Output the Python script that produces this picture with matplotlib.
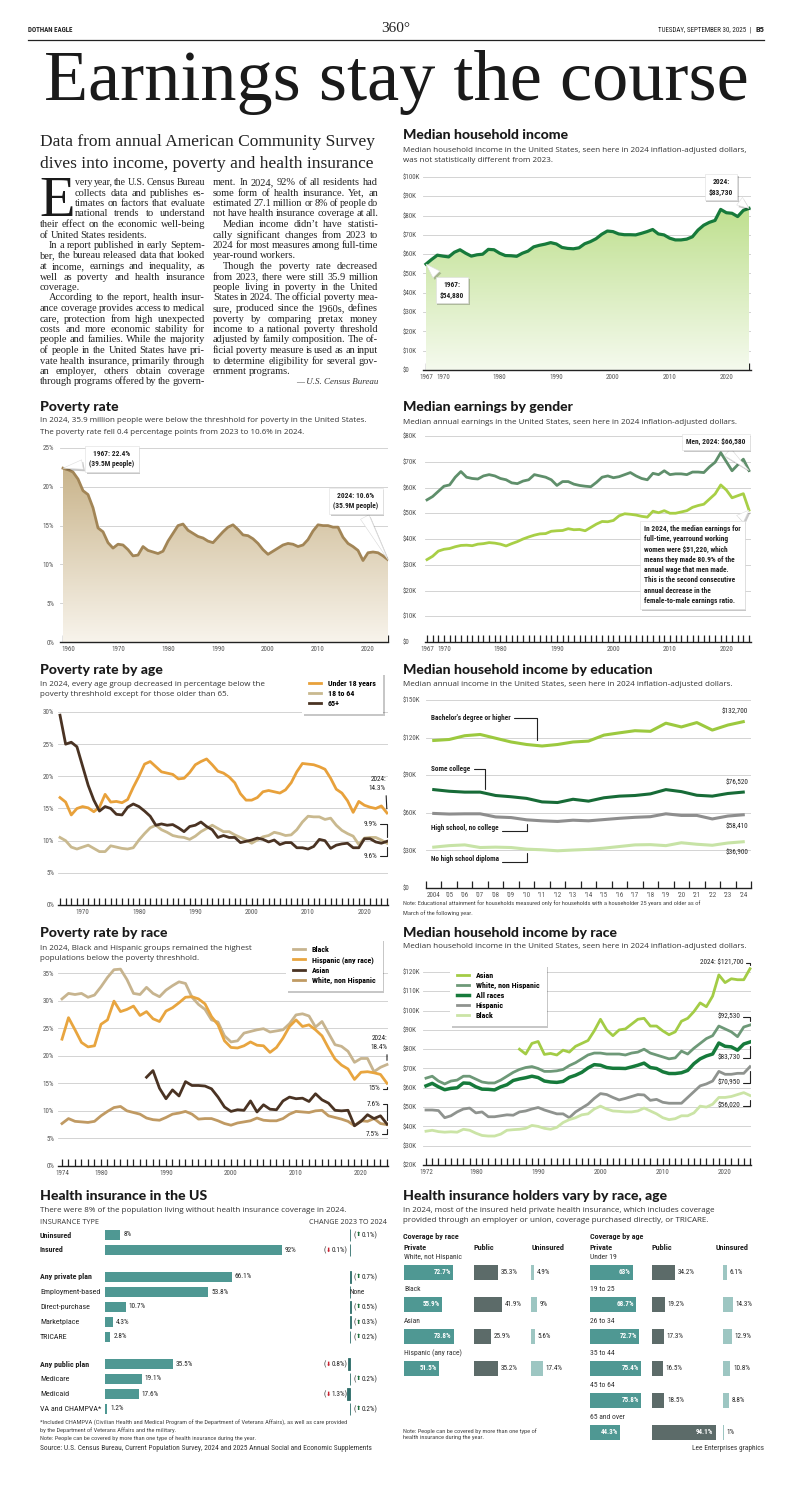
import numpy as np
import matplotlib
matplotlib.use('Agg')
import matplotlib.pyplot as plt
import matplotlib.patheffects as pe
import matplotlib.transforms as mtrans
from matplotlib import font_manager
from matplotlib.colors import LinearSegmentedColormap
from matplotlib.lines import Line2D

W, H = 792, 1512

_names = {f.name for f in font_manager.fontManager.ttflist}


def pick(*cands):
    for c in cands:
        if c in _names:
            return c
    return 'DejaVu Sans'


NARROW = pick('Liberation Sans Narrow', 'Roboto Condensed', 'Open Sans Condensed', 'Roboto')
SANS = pick('Open Sans', 'Noto Sans', 'Roboto')
HEAVY = pick('Lato', 'Roboto')
SERIF = pick('Liberation Serif', 'DejaVu Serif')

# ---------------- data ----------------
# median household income, thousands of 2024 dollars
hh_years = list(range(1967, 2025))
hh_income = [54.88, 57.3, 59.5, 59.0, 58.6, 61.0, 62.3, 60.5, 59.0, 59.7,   # 1967-1976
             60.0, 62.5, 62.3, 60.5, 59.3, 59.2, 58.9, 60.5, 61.6, 63.8,    # 1977-1986
             64.6, 65.2, 66.0, 65.3, 63.5, 63.0, 62.8, 63.3, 65.4, 66.5,    # 1987-1996
             68.0, 70.3, 72.0, 71.7, 70.5, 70.1, 70.1, 70.0, 70.8, 71.7,    # 1997-2006
             72.8, 70.5, 70.0, 68.3, 67.4, 67.4, 67.8, 69.0, 72.5, 75.0,    # 2007-2016
             76.5, 77.5, 83.2, 81.5, 81.2, 79.5, 82.7, 83.73]               # 2017-2024

# poverty rate, %
pov_years = list(range(1959, 2025))
pov_rate = [22.4, 22.2, 21.9, 21.0, 19.5, 19.0, 17.3, 14.7, 14.2, 12.8,   # 1959-1968
            12.1, 12.6, 12.5, 11.9, 11.1, 11.2, 12.3, 11.8, 11.6, 11.4,   # 1969-1978
            11.7, 13.0, 14.0, 15.0, 15.2, 14.4, 14.0, 13.6, 13.4, 13.0,   # 1979-1988
            12.8, 13.5, 14.2, 14.8, 15.1, 14.5, 13.8, 13.7, 13.3, 12.7,   # 1989-1998
            11.9, 11.3, 11.7, 12.1, 12.5, 12.7, 12.6, 12.3, 12.5, 13.2,   # 1999-2008
            14.3, 15.1, 15.0, 15.0, 14.8, 14.8, 13.5, 12.7, 12.3, 11.8,   # 2009-2018
            10.5, 11.5, 11.6, 11.5, 11.1, 10.6]                           # 2019-2024

# median earnings by gender, thousands
earn_years = list(range(1967, 2025))
earn_men = [55.2, 56.5, 58.5, 60.5, 61.0, 64.0, 66.2, 64.0, 63.5, 63.3,
            64.5, 65.0, 64.5, 63.5, 63.0, 61.8, 61.5, 62.5, 63.0, 65.0,
            64.5, 64.0, 63.0, 60.8, 62.3, 62.3, 61.3, 60.8, 60.5, 60.3,
            62.0, 64.0, 64.5, 63.8, 64.2, 65.0, 65.8, 64.5, 63.5, 63.0,
            65.5, 65.0, 66.5, 65.0, 65.3, 65.3, 65.0, 66.0, 66.0, 65.8,
            68.0, 69.8, 73.5, 70.0, 66.5, 68.8, 71.0, 66.58]
earn_women = [32.0, 33.3, 35.3, 36.0, 36.3, 37.0, 37.5, 37.6, 37.4, 38.0,
              38.2, 38.6, 38.4, 38.0, 37.3, 38.2, 39.0, 40.0, 40.8, 41.5,
              42.0, 42.1, 43.0, 43.2, 43.3, 44.0, 43.6, 43.7, 43.2, 44.5,
              45.8, 46.8, 46.7, 47.2, 49.0, 49.8, 49.6, 49.3, 48.8, 48.5,
              50.8, 50.2, 51.0, 50.0, 50.0, 50.5, 51.0, 52.3, 53.0, 53.5,
              55.5, 57.5, 61.0, 59.0, 56.0, 56.8, 57.6, 51.22]

# poverty rate by age, %
age_years = list(range(1966, 2025))
pov_under18 = [16.7, 16.0, 14.0, 15.0, 15.3, 15.1, 14.5, 15.2, 17.2, 16.0,   # 1966-1975
               16.1, 15.9, 16.4, 18.3, 20.0, 21.9, 22.3, 21.5, 20.7, 20.5,   # 1976-1985
               20.3, 19.6, 19.7, 20.6, 21.8, 22.3, 22.7, 21.8, 20.8, 20.5,   # 1986-1995
               19.9, 19.0, 17.3, 16.3, 16.3, 16.7, 17.6, 17.8, 17.6, 17.4,   # 1996-2005
               17.9, 19.0, 20.7, 22.0, 21.9, 21.8, 21.5, 21.1, 19.7, 18.0,   # 2006-2015
               17.4, 16.2, 14.4, 16.1, 15.5, 15.2, 15.0, 15.4, 14.3]         # 2016-2024
pov_18to64 = [10.5, 10.0, 9.0, 8.7, 9.0, 9.3, 8.8, 8.3, 8.3, 9.2,
              9.0, 8.8, 8.7, 8.9, 10.1, 11.1, 12.0, 12.4, 11.7, 11.3,
              10.8, 10.6, 10.5, 10.2, 10.7, 11.4, 11.9, 12.4, 11.9, 11.4,
              11.4, 10.9, 10.5, 10.1, 9.6, 10.1, 10.6, 10.8, 11.3, 11.1,
              10.8, 10.9, 11.7, 12.9, 13.8, 13.7, 13.7, 13.3, 13.5, 12.4,
              11.6, 11.1, 10.7, 9.4, 10.4, 10.5, 10.5, 10.1, 9.6]
pov_65plus = [29.5, 25.0, 25.3, 24.6, 21.6, 18.6, 16.3, 14.6, 15.3, 15.0,
              14.1, 14.0, 15.2, 15.7, 15.3, 14.6, 13.8, 12.4, 12.6, 12.4,
              12.5, 12.0, 11.4, 12.2, 12.4, 12.9, 12.2, 11.7, 10.5, 10.8,
              10.5, 10.5, 9.7, 9.9, 10.1, 10.4, 10.2, 9.8, 10.1, 9.4,
              9.7, 9.7, 8.9, 8.9, 8.7, 9.1, 10.2, 10.0, 8.8, 9.3,
              9.5, 9.6, 8.9, 8.9, 10.3, 10.3, 9.8, 9.6, 9.9]

# median household income by education, thousands
edu_years = list(range(2004, 2025))
edu_bachelor = [117.7, 118.5, 121.5, 122.5, 119.5, 116.5, 114.5, 113.3, 114.5, 116.5,
                117.2, 122.0, 123.8, 125.5, 125.0, 131.5, 128.5, 132.0, 126.0, 130.0, 132.7]
edu_college = [78.5, 77.2, 76.5, 76.5, 73.8, 72.8, 71.5, 68.7, 68.2, 70.8,
               69.3, 72.0, 73.3, 73.8, 75.1, 78.5, 76.9, 74.0, 73.3, 75.4, 76.52]
edu_highschool = [59.5, 59.0, 59.2, 59.2, 56.7, 56.2, 54.4, 53.6, 53.1, 54.1,
                  53.6, 54.6, 55.6, 56.4, 56.9, 59.2, 57.9, 57.9, 55.1, 57.4, 58.41]
edu_nodiploma = [32.6, 33.8, 34.4, 32.3, 32.6, 32.3, 31.0, 30.5, 29.7, 30.3,
                 30.8, 31.8, 33.1, 34.4, 34.6, 33.8, 36.1, 34.9, 34.1, 35.9, 36.9]

# poverty rate by race, %
race_years = list(range(1974, 2025))
pov_black = [30.3, 31.3, 31.1, 31.3, 30.6, 31.0, 32.5, 34.2, 35.6, 35.7,   # 1974-1983
             33.8, 31.3, 31.1, 32.4, 31.3, 30.7, 31.9, 32.7, 33.4, 33.1,   # 1984-1993
             30.6, 29.3, 28.4, 26.5, 26.1, 23.6, 22.5, 22.7, 24.1, 24.4,   # 1994-2003
             24.7, 24.9, 24.3, 24.5, 24.7, 25.8, 27.4, 27.6, 27.2, 25.2,   # 2004-2013
             26.2, 24.1, 22.0, 21.7, 20.8, 18.8, 19.5, 19.5, 17.1, 17.9,   # 2014-2023
             18.4]
pov_hispanic = [23.0, 26.9, 24.7, 22.4, 21.6, 21.8, 25.7, 26.5, 29.9, 28.0,
                28.4, 29.0, 27.3, 28.0, 26.7, 26.2, 28.1, 28.7, 29.6, 30.6,
                30.7, 30.3, 29.4, 27.1, 25.6, 22.7, 21.5, 21.4, 21.8, 22.5,
                21.9, 21.8, 20.6, 21.5, 23.2, 25.3, 26.5, 25.3, 25.6, 24.7,
                23.6, 21.4, 19.4, 18.3, 17.6, 15.7, 17.0, 17.1, 16.9, 16.6,
                15.0]
pov_white = [7.7, 8.6, 8.1, 8.0, 7.9, 8.1, 9.1, 9.9, 10.6, 10.8,
             10.0, 9.7, 9.4, 8.7, 8.4, 8.3, 8.8, 9.4, 9.6, 9.9,
             9.4, 8.5, 8.6, 8.6, 8.2, 7.7, 7.4, 7.8, 8.0, 8.2,
             8.7, 8.3, 8.2, 8.2, 8.6, 9.4, 9.9, 9.8, 9.7, 10.0,
             10.1, 9.1, 8.8, 8.5, 8.1, 7.3, 8.2, 8.1, 8.6, 7.7,
             7.5]
asian_years = list(range(1987, 2025))
pov_asian = [16.1, 17.3, 14.1, 12.2, 13.8, 12.7, 15.3, 14.6, 14.6, 14.5,   # 1987-1996
             14.0, 12.5, 10.7, 9.9, 10.2, 10.1, 11.8, 9.8, 11.1, 10.3,     # 1997-2006
             10.2, 11.8, 12.5, 12.2, 12.3, 11.7, 13.1, 12.0, 11.4, 10.1,   # 2007-2016
             10.0, 10.1, 7.3, 8.1, 9.3, 8.6, 9.1, 7.6]                     # 2017-2024

# median household income by race, thousands
inc_years = list(range(1972, 2025))
inc_white = [65.0, 66.0, 63.5, 62.0, 63.5, 64.0, 66.0, 66.0, 64.5, 63.0,   # 1972-1981
             62.5, 62.5, 64.0, 66.0, 68.0, 69.5, 70.5, 71.0, 70.0, 68.5,   # 1982-1991
             68.5, 68.8, 69.5, 71.5, 73.0, 75.0, 77.0, 78.0, 78.0, 77.5,   # 1992-2001
             77.5, 77.5, 77.0, 78.0, 78.5, 80.0, 78.0, 77.0, 76.0, 75.0,   # 2002-2011
             75.5, 79.0, 77.5, 80.5, 83.0, 85.5, 87.0, 92.0, 90.5, 89.0,   # 2012-2021
             86.5, 91.5, 92.53]                                            # 2022-2024
inc_hispanic = [48.5, 48.5, 48.2, 44.5, 45.5, 47.5, 49.0, 49.5, 47.0, 47.5,
                45.0, 45.0, 45.5, 46.0, 45.8, 47.5, 48.0, 49.0, 49.8, 48.5,
                47.5, 46.5, 46.5, 44.5, 47.5, 49.5, 51.5, 54.5, 57.0, 56.5,
                55.0, 53.7, 54.5, 55.5, 56.5, 56.3, 53.5, 54.0, 52.5, 52.0,
                52.0, 52.0, 55.0, 58.0, 61.0, 62.0, 63.5, 68.5, 67.0, 67.0,
                67.5, 67.5, 70.95]
inc_black = [37.5, 38.0, 37.3, 37.0, 37.2, 37.0, 38.5, 38.0, 36.5, 35.3,
             35.0, 35.0, 36.0, 38.0, 38.3, 38.5, 39.0, 40.5, 40.0, 39.0,
             38.5, 39.5, 42.0, 43.5, 44.5, 46.0, 46.5, 49.0, 50.5, 49.0,
             48.0, 47.8, 47.5, 47.5, 48.0, 49.5, 48.0, 46.5, 44.5, 43.5,
             44.0, 45.5, 45.5, 47.0, 50.5, 50.0, 51.5, 55.0, 55.0, 55.5,
             56.5, 57.5, 56.02]
inc_asian = [80.0, 77.5, 83.0, 84.0, 77.3, 77.8, 77.0, 79.5, 78.5, 81.5,   # 1987-1996
             83.0, 84.5, 89.5, 95.5, 90.0, 87.0, 90.0, 90.5, 93.0, 95.5,   # 1997-2006
             96.0, 92.0, 92.0, 89.5, 87.5, 89.0, 94.5, 96.0, 99.5, 104.0,  # 2007-2016
             102.0, 107.5, 118.5, 114.5, 116.5, 116.0, 116.0, 121.7]      # 2017-2024
inc_all = hh_income[hh_years.index(1972):]

# health insurance in the US
ins_types = ['Uninsured', 'Insured', 'Any private plan', 'Employment-based', 'Direct-purchase',
             'Marketplace', 'TRICARE', 'Any public plan', 'Medicare', 'Medicaid', 'VA and CHAMPVA*']
ins_group = [0, 0, 1, 1, 1, 1, 1, 2, 2, 2, 2]
ins_pct = [8, 92, 66.1, 53.8, 10.7, 4.3, 2.8, 35.5, 19.1, 17.6, 1.2]
ins_change = [0.1, -0.1, 0.7, None, 0.5, 0.3, 0.2, -0.8, 0.2, -1.3, 0.2]
ins_bold = ['Uninsured', 'Insured', 'Any private plan', 'Any public plan']

# coverage by race / age, %
race_groups = ['White, not Hispanic', 'Black', 'Asian', 'Hispanic (any race)']
race_private = [72.7, 55.9, 73.8, 51.5]
race_public = [35.3, 41.9, 25.9, 35.2]
race_uninsured = [4.9, 9, 5.6, 17.4]
age_groups = ['Under 19', '19 to 25', '26 to 34', '35 to 44', '45 to 64', '65 and over']
age_private = [63, 68.7, 72.7, 75.4, 75.8, 44.3]
age_public = [34.2, 19.2, 17.3, 16.5, 18.5, 94.1]
age_uninsured = [6.1, 14.3, 12.9, 10.8, 8.8, 1]

body_left = [
    'very year, the U.S. Census Bureau',
    'collects data and publishes es-',
    'timates on factors that evaluate',
    'national trends to understand',
    'their effect on the economic well-being',
    'of United States residents.',
    'In a report published in early Septem-',
    'ber, the bureau released data that looked',
    'at income, earnings and inequality, as',
    'well as poverty and health insurance',
    'coverage.',
    'According to the report, health insur-',
    'ance coverage provides access to medical',
    'care, protection from high unexpected',
    'costs and more economic stability for',
    'people and families. While the majority',
    'of people in the United States have pri-',
    'vate health insurance, primarily through',
    'an employer, others obtain coverage',
    'through programs offered by the govern-',
]
body_right = [
    'ment. In 2024, 92% of all residents had',
    'some form of health insurance. Yet, an',
    'estimated 27.1 million or 8% of people do',
    'not have health insurance coverage at all.',
    'Median income didn\u2019t have statisti-',
    'cally significant changes from 2023 to',
    '2024 for most measures among full-time',
    'year-round workers.',
    'Though the poverty rate decreased',
    'from 2023, there were still 35.9 million',
    'people living in poverty in the United',
    'States in 2024. The official poverty mea-',
    'sure, produced since the 1960s, defines',
    'poverty by comparing pretax money',
    'income to a national poverty threshold',
    'adjusted by family composition. The of-',
    'ficial poverty measure is used as an input',
    'to determine eligibility for several gov-',
    'ernment programs.',
]
left_par_start, left_par_end = {6, 11}, {5, 10}
right_par_start, right_par_end = {4, 8}, {3, 7, 18}

# ---------------- helpers ----------------
fig = plt.figure(figsize=(W / 100, H / 100), dpi=100)
fig.patch.set_facecolor('white')
renderer = fig.canvas.get_renderer()

GRID = '#cccccc'
INK = '#222222'
TEAL = '#4f9893'
SHADOW = [pe.SimplePatchShadow(offset=(1.2, -1.5), shadow_rgbFace='black', alpha=0.22), pe.Normal()]


def add_ax(x0, y0, x1, y1):
    ax = fig.add_axes([x0 / W, 1 - y1 / H, (x1 - x0) / W, (y1 - y0) / H])
    ax.patch.set_alpha(0)
    return ax


def ftext(x, y, s, **kw):
    kw.setdefault('va', 'center')
    return fig.text(x / W, 1 - y / H, s, **kw)


def width_of(t):
    return t.get_window_extent(renderer).width


def justify(x0, x1, y, line, size, stretch=True, min_gap=1.8, **kw):
    words = line.split()
    arts = [ftext(x0, y, w, size=size, **kw) for w in words]
    widths = [width_of(a) for a in arts]
    natural = sum(widths) + min_gap * (len(words) - 1)
    if natural > x1 - x0:
        # squeeze a too-long line a little instead of letting it run into the gutter
        scale = (x1 - x0) / natural
        for a in arts:
            a.set_fontsize(size * scale)
        widths = [width_of(a) for a in arts]
    if stretch and len(words) > 1:
        gap = max((x1 - x0 - sum(widths)) / (len(words) - 1), min_gap * 0.8)
    else:
        gap = min_gap
    x = x0
    for a, w in zip(arts, widths):
        a.set_x(x / W)
        x += w + gap


def parts_text(x, y, parts, align='left'):
    arts = [ftext(x, y, s, color=c, family=f, size=sz, ha='left') for s, c, f, sz in parts]
    widths = [width_of(a) for a in arts]
    start = x if align == 'left' else x - sum(widths)
    for a, w in zip(arts, widths):
        a.set_x(start / W)
        start += w


def title(x, y, s):
    ftext(x, y, s, family=HEAVY, weight='black', size=10.1, color='#1a1a1a')


def subtitle(x, y, s):
    ftext(x, y, s, family=SANS, size=5.8, color='#333333')


def style(ax, xlim, ylim, yticks, ylabels, xmajor, xlabels, xminor, label_x, align, major_len=5):
    ax.set_xlim(*xlim)
    ax.set_ylim(*ylim)
    for side in ('top', 'right', 'left'):
        ax.spines[side].set_visible(False)
    ax.spines['bottom'].set_color(INK)
    ax.spines['bottom'].set_linewidth(1)
    left_px = ax.get_position().x0 * W
    ax.set_yticks(yticks, ylabels, fontfamily=NARROW, fontsize=5, color='#555555')
    ax.tick_params(axis='y', length=0, pad=(left_px - label_x) * 0.72)
    if align == 'left':
        for t in ax.get_yticklabels():
            t.set_ha('left')
    ax.grid(axis='y', color=GRID, lw=0.6)
    ax.set_axisbelow(True)
    ax.set_xticks(xmajor, xlabels, fontfamily=NARROW, fontsize=5, color='#555555')
    ax.set_xticks(xminor, minor=True)
    ax.tick_params(axis='x', which='minor', direction='in', length=5, width=0.9, color=INK)
    ax.tick_params(axis='x', which='major', direction='in', length=major_len, width=0.9,
                   color=INK, pad=3)


def gradient_fill(ax, x, y, c_top, c_bot):
    poly = ax.fill_between(x, y, 0, color='none', lw=0)
    cmap = LinearSegmentedColormap.from_list('fill', [c_bot, c_top])
    grad = np.linspace(0, 1, 256).reshape(-1, 1)
    im = ax.imshow(grad, cmap=cmap, aspect='auto', origin='lower',
                   extent=[min(x), max(x), 0, max(y)], zorder=1)
    im.set_clip_path(poly.get_paths()[0], transform=ax.transData)


def callout(ax, s, xy, xytext, ha='center', size=5.3, linespacing=1.45):
    a = ax.annotate(s, xy=xy, xytext=(xytext[0], H - xytext[1]), textcoords='figure pixels',
                    ha=ha, va='center', family=NARROW, weight='bold', size=size, color=INK,
                    linespacing=linespacing, zorder=6, annotation_clip=False,
                    bbox=dict(boxstyle='square,pad=0.55', fc='white', ec='#dddddd', lw=0.4),
                    arrowprops=dict(arrowstyle='wedge,tail_width=1.3,shrink_factor=0.5',
                                    fc='white', ec='#dddddd', lw=0.4, shrinkB=0))
    a.get_bbox_patch().set_path_effects(SHADOW)
    a.arrow_patch.set_path_effects(SHADOW)
    return a


def bracket(ax, s, xy, xytext, ha='right', relpos=(1, 0.5), angled=True, weight='normal'):
    conn = 'angle,angleA=0,angleB=90,rad=0' if angled else 'arc3'
    ax.annotate(s, xy=xy, xytext=(xytext[0], H - xytext[1]), textcoords='figure pixels',
                ha=ha, va='center', family=NARROW, size=5.2, weight=weight, color=INK,
                linespacing=1.5, annotation_clip=False,
                arrowprops=dict(arrowstyle='-', color=INK, lw=0.8, shrinkA=0.5, shrinkB=3,
                                connectionstyle=conn, relpos=relpos))


def legend_box(ax, handles, labels, x0, y0):
    leg = ax.legend(handles, labels, loc='upper left', bbox_to_anchor=(x0 / W, 1 - y0 / H),
                    bbox_transform=fig.transFigure, frameon=True, fancybox=False,
                    edgecolor='none', framealpha=1,
                    prop=dict(family=NARROW, weight='bold', size=5.8),
                    handlelength=1.5, handletextpad=0.8, labelspacing=0.35, borderpad=0.9)
    leg.get_frame().set_path_effects(SHADOW)
    leg.set_zorder(10)


# ---------------- header ----------------
ftext(28, 30, 'DOTHAN EAGLE', family=NARROW, weight='bold', size=5, color=INK)
ftext(396, 28, '360\u00b0', family=SERIF, size=11, ha='center', color=INK)
ftext(751, 30, 'TUESDAY, SEPTEMBER 30, 2025  |', family=NARROW, size=5, ha='right', color=INK)
ftext(764, 30, 'B5', family=NARROW, weight='bold', size=6, ha='right', color=INK)
fig.add_artist(Line2D([28 / W, 764 / W], [1 - 40 / H, 1 - 40 / H], color=INK, lw=0.9))
ftext(396, 100, 'Earnings stay the course', family=SERIF, size=52, ha='center', va='baseline',
      color='#1a1a1a')

# ---------------- story ----------------
ftext(40, 146, 'Data from annual American Community Survey', family=SERIF, size=12.5,
      va='baseline', color='#222222')
ftext(40, 168, 'dives into income, poverty and health insurance', family=SERIF, size=12.5,
      va='baseline', color='#222222')
ftext(39, 215.5, 'E', family=SERIF, size=42, va='baseline', color='#1a1a1a')
body_kw = dict(family=SERIF, va='baseline', color='#222222')
for i, line in enumerate(body_left):
    y = 185 + 10.5 * i
    x0 = 75 if i < 4 else (49 if i in left_par_start else 40)
    justify(x0, 205, y, line, 7.5, stretch=i not in left_par_end, **body_kw)
for i, line in enumerate(body_right):
    y = 185 + 10.5 * i
    x0 = 223 if i in right_par_start else 213
    justify(x0, 378, y, line, 7.5, stretch=i not in right_par_end, **body_kw)
ftext(378, 185 + 10.5 * 19, '\u2014 U.S. Census Bureau', family=SERIF, style='italic', size=6.5,
      va='baseline', ha='right', color='#333333')

# ---------------- median household income ----------------
title(403, 135, 'Median household income')
subtitle(403, 151, 'Median household income in the United States, seen here in 2024 inflation-adjusted dollars,')
subtitle(403, 161, 'was not statistically different from 2023.')
ax1 = add_ax(423, 177, 751, 370)
gradient_fill(ax1, hh_years, hh_income, '#bfe08f', '#f5faee')
ax1.plot(hh_years, hh_income, color='#177a3b', lw=2.3, zorder=3, solid_joinstyle='round')
style(ax1, (1967 - 3 / 5.667, 2024 + 2 / 5.667), (0, 100), range(0, 101, 10),
      ['$0'] + ['$%dK' % v for v in range(10, 101, 10)],
      [1967, 1970, 1980, 1990, 2000, 2010, 2020], ['1967', '1970', '1980', '1990', '2000', '2010', '2020'],
      hh_years, 403, 'left')
callout(ax1, '2024:\n$83,730', (hh_years[-1], hh_income[-1]), (721, 187))
callout(ax1, '1967:\n$54,880', (hh_years[0], hh_income[0]), (452, 290))

# ---------------- poverty rate ----------------
title(40, 407, 'Poverty rate')
subtitle(40, 421, 'In 2024, 35.9 million people were below the threshhold for poverty in the United States.')
subtitle(40, 432, 'The poverty rate fell 0.4 percentage points from 2023 to 10.6% in 2024.')
ax2 = add_ax(60, 448, 388, 642)
gradient_fill(ax2, pov_years, pov_rate, '#c9b48b', '#f8f4ec')
ax2.plot(pov_years, pov_rate, color='#a28556', lw=2.0, zorder=3, solid_joinstyle='round')
style(ax2, (1959 - 3 / 5.0, 2024), (0, 25), range(0, 26, 5), ['%d%%' % v for v in range(0, 26, 5)],
      list(range(1960, 2021, 10)), [str(v) for v in range(1960, 2021, 10)], pov_years, 54, 'right')
callout(ax2, '1967: 22.4%\n(39.5M people)', (pov_years[0], pov_rate[0]), (112, 459))
callout(ax2, '2024: 10.6%\n(35.9M people)', (pov_years[-1], pov_rate[-1]), (356, 501))

# ---------------- median earnings by gender ----------------
title(403, 407, 'Median earnings by gender')
subtitle(403, 422, 'Median annual earnings in the United States, seen here in 2024 inflation-adjusted dollars.')
ax3 = add_ax(425, 436, 751, 642)
ax3.plot(earn_years, earn_men, color='#5f8f6b', lw=2.0, zorder=3)
ax3.plot(earn_years, earn_women, color='#a8cf46', lw=2.0, zorder=3)
style(ax3, (1967 - 2 / 5.65, 2024 + 2 / 5.65), (0, 80), range(0, 81, 10),
      ['$0'] + ['$%dK' % v for v in range(10, 81, 10)],
      [1967, 1970, 1980, 1990, 2000, 2010, 2020], ['1967', '1970', '1980', '1990', '2000', '2010', '2020'],
      earn_years, 403, 'left')
callout(ax3, 'Men, 2024: $66,580', (earn_years[-1], earn_men[-1]), (716, 442))
callout(ax3, 'In 2024, the median earnings for\nfull-time, yearround working\nwomen were $51,220, which\n'
             'means they made 80.9% of the\nannual wage that men made.\nThis is the second consecutive\n'
             'annual decrease in the\nfemale-to-male earnings ratio.',
        (earn_years[-1], earn_women[-1]), (644, 565), ha='left', linespacing=1.38)

# ---------------- poverty rate by age ----------------
title(40, 670, 'Poverty rate by age')
subtitle(40, 685, 'In 2024, every age group decreased in percentage below the')
subtitle(40, 695, 'poverty threshhold except for those older than 65.')
ax4 = add_ax(58, 712, 388, 905)
l_u18, = ax4.plot(age_years, pov_under18, color='#e8a13b', lw=2.0, zorder=3)
l_adult, = ax4.plot(age_years, pov_18to64, color='#c9b98f', lw=2.0, zorder=3)
l_old, = ax4.plot(age_years, pov_65plus, color='#4a3323', lw=2.0, zorder=4)
style(ax4, (1966 - 2 / 5.64, 2024 + 1 / 5.64), (0, 30), range(0, 31, 5),
      ['%d%%' % v for v in range(0, 31, 5)],
      list(range(1970, 2021, 10)), [str(v) for v in range(1970, 2021, 10)], age_years, 54, 'right')
legend_box(ax4, [l_u18, l_adult, l_old], ['Under 18 years', '18 to 64', '65+'], 298, 669)
bracket(ax4, '2024:\n14.3%', (age_years[-1], pov_under18[-1]), (386, 784), relpos=(1, 0), angled=False)
bracket(ax4, '9.9%', (age_years[-1], pov_65plus[-1]), (377, 824))
bracket(ax4, '9.6%', (age_years[-1], pov_18to64[-1]), (377, 856))

# ---------------- median household income by education ----------------
title(403, 670, 'Median household income by education')
subtitle(403, 685, 'Median annual income in the United States, seen here in 2024 inflation-adjusted dollars.')
ax5 = add_ax(426, 700, 751, 888)
ax5.plot(edu_years, edu_bachelor, color='#9cc93f', lw=2.2, zorder=3)
ax5.plot(edu_years, edu_college, color='#176b37', lw=2.2, zorder=3)
ax5.plot(edu_years, edu_highschool, color='#8e8e8e', lw=2.2, zorder=3)
ax5.plot(edu_years, edu_nodiploma, color='#c7e3a6', lw=2.2, zorder=3)
style(ax5, (2003.5, 2024.5), (0, 150), range(0, 151, 30),
      ['$0'] + ['$%dK' % v for v in range(30, 151, 30)],
      edu_years, ['2004'] + ["'%02d" % (y % 100) for y in edu_years[1:]],
      [y - 0.5 for y in edu_years] + [edu_years[-1] + 0.5], 403, 'left', major_len=0)
bracket(ax5, "Bachelor's degree or higher", (2010.7, 114.4), (431, 718), ha='left', weight='bold')
bracket(ax5, 'Some college', (2007.3, 75.7), (431, 769), ha='left', weight='bold')
bracket(ax5, 'High school, no college', (2010, 54.4), (431, 828), ha='left', weight='bold',
        relpos=(1, 0.15))
bracket(ax5, 'No high school diploma', (2010, 31.0), (431, 859), ha='left', weight='bold',
        relpos=(1, 0.15))
for val, yy in [(edu_bachelor[-1], 712), (edu_college[-1], 783), (edu_highschool[-1], 827),
                (edu_nodiploma[-1], 853)]:
    ftext(748, yy, '${:,.0f}'.format(val * 1000), family=NARROW, size=5.2, ha='right', color=INK)
ftext(403, 903, 'Note: Educational attainment for households measured only for households with a householder 25 years and older as of',
      family=NARROW, size=4.6, color='#444444')
ftext(403, 913, 'March of the following year.', family=NARROW, size=4.6, color='#444444')

# ---------------- poverty rate by race ----------------
title(40, 933, 'Poverty rate by race')
subtitle(40, 948, 'In 2024, Black and Hispanic groups remained the highest')
subtitle(40, 958, 'populations below the poverty threshhold.')
ax6 = add_ax(58, 973, 388, 1166)
l_b, = ax6.plot(race_years, pov_black, color='#c7b48f', lw=2.0, zorder=3, clip_on=False)
l_h, = ax6.plot(race_years, pov_hispanic, color='#e8a53f', lw=2.0, zorder=3)
l_a, = ax6.plot(asian_years, pov_asian, color='#4a3323', lw=2.0, zorder=4)
l_w, = ax6.plot(race_years, pov_white, color='#c09a63', lw=2.0, zorder=3)
style(ax6, (1974 - 4 / 6.5, 2024 + 1 / 6.5), (0, 35), range(0, 36, 5),
      ['%d%%' % v for v in range(0, 36, 5)],
      [1974] + list(range(1980, 2021, 10)), ['1974'] + [str(v) for v in range(1980, 2021, 10)],
      race_years, 54, 'right')
legend_box(ax6, [l_b, l_h, l_a, l_w], ['Black', 'Hispanic (any race)', 'Asian', 'White, non Hispanic'],
           282, 935)
bracket(ax6, '2024:\n18.4%', (race_years[-1], pov_black[-1]), (387, 1043), relpos=(1, 0), angled=False)
bracket(ax6, '15%', (race_years[-1], pov_hispanic[-1]), (380, 1089))
bracket(ax6, '7.6%', (asian_years[-1], pov_asian[-1]), (380, 1104))
bracket(ax6, '7.5%', (race_years[-1], pov_white[-1]), (379, 1134))

# ---------------- median household income by race ----------------
title(403, 933, 'Median household income by race')
subtitle(403, 947, 'Median household income in the United States, seen here in 2024 inflation-adjusted dollars.')
ax7 = add_ax(423, 972, 751, 1165)
m_a, = ax7.plot(asian_years, inc_asian, color='#a3cc46', lw=2.0, zorder=3, clip_on=False)
m_w, = ax7.plot(inc_years, inc_white, color='#6e9978', lw=2.0, zorder=3)
m_all, = ax7.plot(inc_years, inc_all, color='#167a3b', lw=2.5, zorder=4)
m_h, = ax7.plot(inc_years, inc_hispanic, color='#8f938f', lw=2.0, zorder=3)
m_b, = ax7.plot(inc_years, inc_black, color='#cbe4a6', lw=2.0, zorder=3)
style(ax7, (1972 - 3 / 6.23, 2024 + 1 / 6.23), (20, 120), range(20, 121, 10),
      ['$%dK' % v for v in range(20, 121, 10)],
      [1972] + list(range(1980, 2021, 10)), ['1972'] + [str(v) for v in range(1980, 2021, 10)],
      inc_years, 403, 'left')
legend_box(ax7, [m_a, m_w, m_all, m_h, m_b], ['Asian', 'White, non Hispanic', 'All races', 'Hispanic', 'Black'],
           446, 961)
bracket(ax7, '2024: $121,700', (asian_years[-1], inc_asian[-1]), (743, 963))
bracket(ax7, '$92,530', (inc_years[-1], inc_white[-1]), (740, 1017))
bracket(ax7, '$83,730', (inc_years[-1], inc_all[-1]), (740, 1058))
bracket(ax7, '$70,950', (inc_years[-1], inc_hispanic[-1]), (740, 1083))
bracket(ax7, '$56,020', (inc_years[-1], inc_black[-1]), (740, 1106))

# ---------------- health insurance in the US ----------------
title(40, 1196, 'Health insurance in the US')
subtitle(40, 1210, 'There were 8% of the population living without health insurance coverage in 2024.')
ftext(40, 1223, 'INSURANCE TYPE', family=SANS, size=5.2, color='#333333')
ftext(387, 1223, 'CHANGE 2023 TO 2024', family=SANS, size=5.2, ha='right', color='#333333')
pos = []
p = 0.0
for i, g in enumerate(ins_group):
    if i > 0:
        p += 1.0 + (0.8 if g != ins_group[i - 1] else 0.0)
    pos.append(p)
ylim_rows = ((1416 - 1235) / 15.0, (1228 - 1235) / 15.0)
axh = add_ax(105, 1228, 297, 1416)
axh.barh(pos, ins_pct, height=0.72, color=TEAL)
axh.set_xlim(0, 100)
axh.set_ylim(*ylim_rows)
axh.axis('off')
lab_tr = mtrans.blended_transform_factory(fig.transFigure, axh.transData)
for name, v, pp in zip(ins_types, ins_pct, pos):
    axh.text(40 / W, pp, name, transform=lab_tr, va='center', family=NARROW, size=5.8, color=INK,
             weight='bold' if name in ins_bold else 'normal')
    axh.text(v + 1.5, pp, '%g%%' % v, va='center', family=NARROW, size=5.2, color=INK)
axc = add_ax(300, 1228, 390, 1416)
chg_vals = [c if c is not None else 0 for c in ins_change]
axc.barh(pos, chg_vals, height=0.85, color='#2d6d69', edgecolor='#2d6d69', lw=0.6)
axc.set_xlim(-25, 20)
axc.set_ylim(*ylim_rows)
axc.axis('off')
for c, pp in zip(ins_change, pos):
    yrow = 1235 + 15 * pp
    if c is None:
        ftext(349, yrow, 'None', family=NARROW, size=5.2, color=INK)
    elif c > 0:
        parts_text(354, yrow, [('(', INK, NARROW, 5.2), ('\u2b06', '#1d6b3a', 'DejaVu Sans', 4.6),
                               ('%.1f%%)' % c, INK, NARROW, 5.2)])
    else:
        parts_text(347, yrow, [('(', INK, NARROW, 5.2), ('\u2b07', '#c8202f', 'DejaVu Sans', 4.6),
                               ('%.1f%%)' % abs(c), INK, NARROW, 5.2)], align='right')
note_kw = dict(family=NARROW, size=4.6, color='#444444')
ftext(40, 1423, '*Included CHAMPVA (Civilian Health and Medical Program of the Department of Veterans Affairs), as well as care provided', **note_kw)
ftext(40, 1430, 'by the Department of Veterans Affairs and the military.', **note_kw)
ftext(40, 1438, 'Note: People can be covered by more than one type of health insurance during the year.', **note_kw)
ftext(40, 1448, 'Source: U.S. Census Bureau, Current Population Survey, 2024 and 2025 Annual Social and Economic Supplements',
      family=NARROW, size=5.3, color='#333333')

# ---------------- health insurance holders ----------------
title(403, 1196, 'Health insurance holders vary by race, age')
subtitle(403, 1210, 'In 2024, most of the insured held private health insurance, which includes coverage')
subtitle(403, 1221, 'provided through an employer or union, coverage purchased directly, or TRICARE.')
hdr = dict(family=NARROW, weight='bold', size=5.9, color=INK)
ftext(403, 1236, 'Coverage by race', **hdr)
ftext(590, 1236, 'Coverage by age', **hdr)
for x, s in [(404, 'Private'), (474, 'Public'), (532, 'Uninsured'),
             (590, 'Private'), (652, 'Public'), (716, 'Uninsured')]:
    ftext(x, 1247, s, **hdr)


def coverage(groups, cols, x_left):
    n = len(groups)
    for name, i in zip(groups, range(n)):
        ftext(x_left[0], 1257 + 32 * i, name, family=NARROW, size=5.5, color='#333333')
    for (vals, color, kind), x0 in zip(cols, x_left):
        ax = add_ax(x0, 1250, x0 + 67.5, 1450)
        ax.barh(range(n), vals, height=0.47, color=color)
        ax.set_xlim(0, 100)
        ax.set_ylim((1450 - 1272.5) / 32, (1250 - 1272.5) / 32)
        ax.axis('off')
        for i, v in enumerate(vals):
            if kind == 'private' or v > 80:
                ax.text(v - 3, i, '%g%%' % v, ha='right', va='center', family=NARROW,
                        weight='bold', size=5.1, color='white')
            else:
                ax.text(v + 4, i, '%g%%' % v, ha='left', va='center', family=NARROW,
                        size=5.1, color=INK)


coverage(race_groups, [(race_private, TEAL, 'private'), (race_public, '#5c6b69', 'public'),
                       (race_uninsured, '#9dc6c2', 'uninsured')], [404, 474, 531])
coverage(age_groups, [(age_private, TEAL, 'private'), (age_public, '#5c6b69', 'public'),
                      (age_uninsured, '#9dc6c2', 'uninsured')], [590, 652, 723])
ftext(403, 1431, 'Note: People can be covered by more than one type of', **note_kw)
ftext(403, 1438, 'health insurance during the year.', **note_kw)
ftext(764, 1448, 'Lee Enterprises graphics', family=NARROW, size=5.3, ha='right', color='#333333')

fig.savefig('out.png', dpi=100)
